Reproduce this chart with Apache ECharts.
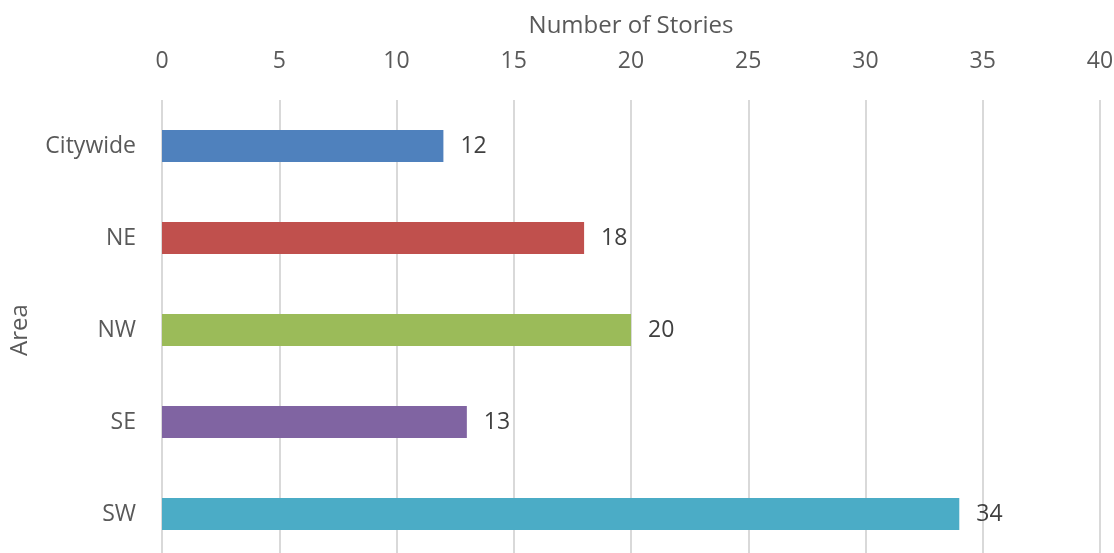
<!DOCTYPE html>
<html>
<head>
<meta charset="utf-8">
<script src="https://cdn.jsdelivr.net/npm/echarts@6/dist/echarts.min.js"></script>
<style>html,body{margin:0;padding:0;background:#fff}#c{width:1114px;height:553px}</style>
</head>
<body>
<div id="c"></div>
<script>
var categories = ['Citywide', 'NE', 'NW', 'SE', 'SW'];
var values = [12, 18, 20, 13, 34];
var barColors = ['#4F81BD', '#C0504D', '#9BBB59', '#8064A2', '#4BACC6'];
var xTicks = { min: 0, max: 40, interval: 5 };

var chart = echarts.init(document.getElementById('c'));
var font = 'Open Sans';
chart.setOption({
  animation: false,
  backgroundColor: '#fff',
  grid: { left: 162, right: 14, top: 100, height: 460, containLabel: false, outerBoundsMode: 'none' },
  xAxis: {
    type: 'value', position: 'top',
    min: xTicks.min, max: xTicks.max, interval: xTicks.interval,
    name: 'Number of Stories', nameLocation: 'middle', nameGap: 62,
    nameTextStyle: { fontFamily: font, fontSize: 24, color: '#595959' },
    axisLine: { show: false }, axisTick: { show: false },
    axisLabel: { fontFamily: font, fontSize: 23, color: '#595959', margin: 27 },
    splitLine: { show: true, lineStyle: { color: '#d9d9d9', width: 2 } }
  },
  yAxis: {
    type: 'category', inverse: true, data: categories,
    name: 'Area', nameLocation: 'middle', nameGap: 130,
    nameTextStyle: { fontFamily: font, fontSize: 24, color: '#595959' },
    axisLine: { show: false }, axisTick: { show: false },
    axisLabel: { fontFamily: font, fontSize: 23, color: '#595959', margin: 26 }
  },
  series: [{
    type: 'bar', barWidth: 32,
    data: values.map(function (v, i) { return { value: v, itemStyle: { color: barColors[i] } }; }),
    label: { show: true, position: 'right', distance: 17, fontFamily: font, fontSize: 23, color: '#404040' }
  }]
});
</script>
</body>
</html>
